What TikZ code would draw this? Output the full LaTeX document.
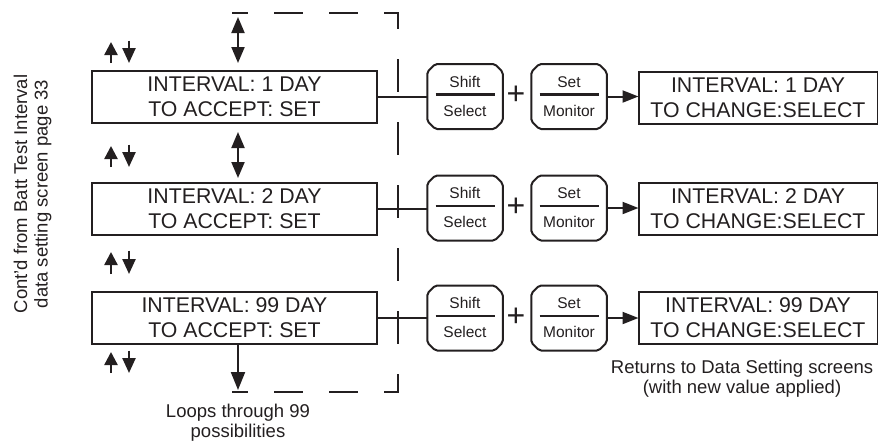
\documentclass[tikz,border=0pt]{standalone}
\usepackage{fontspec}
\setmainfont{Liberation Sans}
\usetikzlibrary{arrows.meta}
\definecolor{ink}{RGB}{35,31,32}
\newcommand\mykeypad[5]{%
  \node[keyframe] (#1) at (#2,#3) {};
  \draw[keyline] ([xshift=8pt]#1.north west) -- ([xshift=-8pt]#1.north east)
     -- ([yshift=-8pt]#1.north east) -- ([yshift=8pt]#1.south east)
     -- ([xshift=-8pt]#1.south east) -- ([xshift=8pt]#1.south west)
     -- ([yshift=8pt]#1.south west) -- ([yshift=-8pt]#1.north west) -- cycle;
  \draw[divline] (#2-29.5,#3-2) -- (#2+29.5,#3-2);
  \node[keytext] at (#2,#3-9.4) {#4};
  \node[keytext] at (#2,#3+19.6) {#5};
}
\newcommand\myupdown[2]{% y top, y bottom
  \draw[wire, line width=2.4pt, -{Triangle[length=13pt,width=13pt]}] (111,#2) -- (111,#1);
  \draw[wire, line width=2.4pt, -{Triangle[length=15pt,width=13pt]}] (129,#1-1.5) -- (129,#2);
}
\begin{document}
\begin{tikzpicture}[x=1pt,y=-1pt,
  every node/.style={text=ink, inner sep=0pt, outer sep=0pt},
  screen/.style={draw=ink, line width=2pt, minimum width=285pt, minimum height=52pt,
                 align=center, font=\fontsize{21.3}{25}\selectfont},
  rscreen/.style={screen, minimum width=239pt},
  keyframe/.style={minimum width=75.5pt, minimum height=65pt},
  keyline/.style={draw=ink, line width=2pt, rounded corners=2pt},
  divline/.style={draw=ink, line width=2.2pt},
  keytext/.style={font=\fontsize{15.5}{15.5}\selectfont, anchor=base},
  note/.style={align=center, font=\fontsize{18.5}{20.5}\selectfont},
  plus/.style={font=\fontsize{32}{32}\selectfont},
  wire/.style={draw=ink, line width=2pt},
  tipA/.style={-{Triangle[length=16pt,width=12pt]}},
  dbl/.style={wire, {Triangle[length=16pt,width=13pt]}-{Triangle[length=16pt,width=13pt]}},
  hdash/.style={draw=ink, line width=2pt, line cap=rect, dash pattern=on 27pt off 28pt},
  vdash/.style={draw=ink, line width=2pt, line cap=rect, dash pattern=on 31pt off 32pt},
]
\useasboundingbox (0,0) rectangle (878,445);

% side caption
\node[note, rotate=90] (cap) at (32.5,194) {Cont'd from Batt Test Interval\\data setting screen page 33};

% left screens
\node[screen] (b1) at (234.5,97) {INTERVAL: 1 DAY\\TO ACCEPT: SET};
\node[screen] (b2) at (234.5,208.5) {INTERVAL: 2 DAY\\TO ACCEPT: SET};
\node[screen] (b3) at (234.5,318) {INTERVAL: 99 DAY\\TO ACCEPT: SET};

% right screens
\node[rscreen] (r1) at (758,97.5) {INTERVAL: 1 DAY\\TO CHANGE:SELECT};
\node[rscreen] (r2) at (758,208.5) {INTERVAL: 2 DAY\\TO CHANGE:SELECT};
\node[rscreen] (r3) at (758,318) {INTERVAL: 99 DAY\\TO CHANGE:SELECT};

% keys
\mykeypad{s1}{465}{96.5}{Shift}{Select}
\mykeypad{m1}{569}{96.5}{Set}{Monitor}
\mykeypad{s2}{465}{208}{Shift}{Select}
\mykeypad{m2}{569}{208}{Set}{Monitor}
\mykeypad{s3}{465}{318}{Shift}{Select}
\mykeypad{m3}{569}{318}{Set}{Monitor}

\node[plus] (p1) at (516,95.5) {+};
\node[plus] (p2) at (516,207) {+};
\node[plus] (p3) at (516,317) {+};

% connectors
\foreach \i in {1,2,3}{
  \draw[wire] (b\i.east) -- (b\i.east -| s\i.west);
  \draw[wire, tipA] (m\i.east) -- (m\i.east -| r\i.west);
}

% scroll arrows
\coordinate (a1t) at (238,17);  \coordinate (a1b) at (238,63);
\coordinate (a2t) at (238,132); \coordinate (a2b) at (238,178);
\draw[dbl] (a1t) -- (a1b);
\draw[dbl] (a2t) -- (a2b);
\coordinate (a3b) at (238,390);
\draw[wire, -{Triangle[length=18pt,width=14pt]}] (b3.south -| a3b) -- (a3b);

% loop-back dashed line
\coordinate (lt) at (233,13);
\coordinate (rt) at (398,13);
\coordinate (rb) at (398,392);
\coordinate (lb) at (233,392);
\draw[hdash, dash phase=13pt] (lt) -- (rt);
\draw[vdash, dash phase=16pt] (rt) -- (rb);
\draw[hdash, dash phase=14pt] (rb) -- (lb);

% small up/down arrows
\myupdown{42}{63}
\myupdown{146}{167}
\myupdown{252}{274}
\myupdown{352}{373}

% notes
\node[note] (loops) at (238,422.5) {Loops through 99\\possibilities};
\node[note] (ret) at (742,378.5) {Returns to Data Setting screens\\(with new value applied)};
\end{tikzpicture}
\end{document}
